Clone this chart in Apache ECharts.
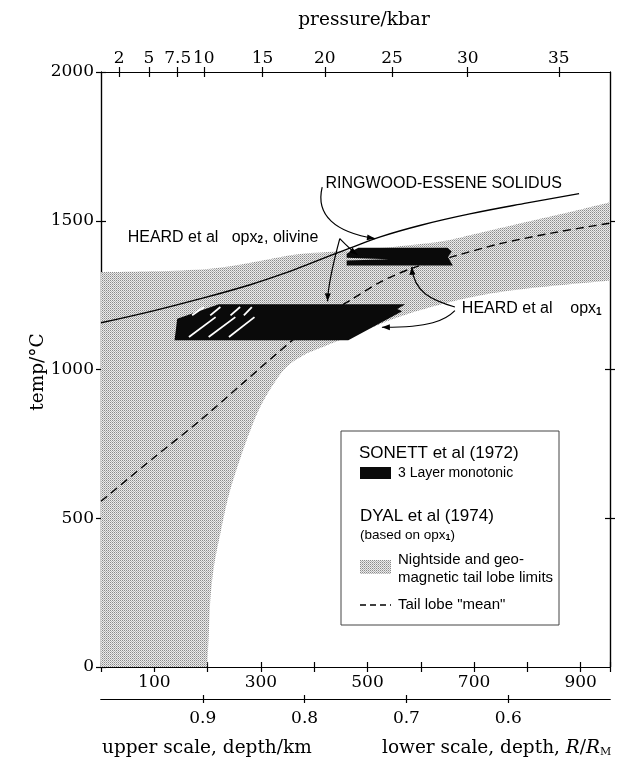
<!DOCTYPE html>
<html><head><meta charset="utf-8">
<script src="https://cdn.jsdelivr.net/npm/echarts@6/dist/echarts.min.js"></script>
<style>html,body{margin:0;padding:0;background:#fff}#c{width:634px;height:762px}</style>
</head><body><div id="c"></div>
<script>
// ---------------- data ----------------
const depthLabelsKm = [100, 300, 500, 700, 900];
const pressureLabels = ['2', '5', '7.5', '10', '15', '20', '25', '30', '35'];
const pressureDepthKm = [34, 90, 144, 193, 303, 420, 546, 688, 859];
const radiusTicks = [0.9, 0.8, 0.7, 0.6];
const rightTempTicks = [500, 1000, 1500];

// Ringwood-Essene solidus [depth km, temp °C]
const solidus = [[0,1157],[100,1198],[187,1238],[280,1285],[342,1322],[393,1357],[467,1408],[524,1446],[600,1485],[692,1523],[800,1560],[897,1591]];
// Dyal et al tail lobe "mean"
const tailLobeMean = [[0,557],[100,705],[186,829],[270,960],[355,1092],[410,1170],[467,1232],[524,1294],[583,1340],[661,1380],[749,1423],[850,1460],[955,1492]];
// Nightside / geomagnetic tail lobe limits (shaded band)
const bandUpper = [[0,1327],[100,1330],[200,1338],[260,1352],[320,1372],[374,1388],[455,1398],[524,1408],[600,1422],[649,1434],[700,1455],[800,1497],[900,1538],[955,1562]];
const bandLower = [[955,1299],[800,1272],[711,1249],[640,1220],[561,1178],[500,1135],[450,1100],[411,1072],[380,1048],[349,1010],[325,955],[299,876],[280,795],[261,700],[240,580],[224,450],[212,340],[205,224],[202,100],[199,0]];
const bandCorner = [0, 0];
// Sonett et al 3-layer monotonic regions
const sonettLower = [[221,1219],[571,1219],[556,1203],[565,1196],[464,1098],[138,1098],[143,1171]];
const sonettUpper = [[483,1409],[650,1409],[658,1397],[651,1378],[660,1350],[461,1350],[461,1366],[540,1371],[461,1376],[461,1389]];
const sonettStripes = [
  [[165,1109],[215,1176]], [[202,1109],[252,1176]], [[240,1109],[288,1176]],
  [[171,1182],[193,1210]], [[205,1182],[224,1210]], [[243,1182],[261,1210]], [[268,1182],[283,1210]]
];
// annotation arrows: [start, control1, control2, end] in [km, °C]
const arrowSolidus = [[415,1613],[402,1518],[440,1461],[514,1440]];
const arrowOpx2Right = [[448,1440],[460,1418],[470,1400],[481,1386]];
const arrowOpx2Left = [[448,1440],[436,1360],[426,1282],[425,1229]];
const arrowOpx1Up = [[664,1210],[621,1233],[587,1259],[583,1345]];
const arrowOpx1Left = [[664,1198],[646,1165],[617,1141],[527,1142]];
const labelSolidus = { pos: [421, 1624], text: 'RINGWOOD-ESSENE SOLIDUS' };
const labelOpx2 = { pos: [50, 1445], text: 'HEARD et al   opx{s|2}, olivine' };
const labelOpx1 = { pos: [677, 1204], text: 'HEARD et al    opx{s|1}' };

// ---------------- helpers ----------------
function makeStipple() {
  const c = document.createElement('canvas'); c.width = 2; c.height = 2;
  const g = c.getContext('2d');
  g.fillStyle = '#ebebeb'; g.fillRect(0, 0, 2, 2);
  g.fillStyle = '#8a8a8a'; g.fillRect(0, 0, 1, 1);
  g.fillStyle = '#b4b4b4'; g.fillRect(1, 1, 1, 1);
  return c;
}
const stipple = { image: makeStipple(), repeat: 'repeat' };

function catmull(pts) {
  let d = '';
  for (let i = 0; i < pts.length - 1; i++) {
    const p0 = pts[i - 1] || pts[i], p1 = pts[i], p2 = pts[i + 1], p3 = pts[i + 2] || pts[i + 1];
    const t = 1 / 6;
    const c1 = [p1[0] + (p2[0] - p0[0]) * t, p1[1] + (p2[1] - p0[1]) * t];
    const c2 = [p2[0] - (p3[0] - p1[0]) * t, p2[1] - (p3[1] - p1[1]) * t];
    d += ' C ' + c1[0] + ' ' + c1[1] + ' ' + c2[0] + ' ' + c2[1] + ' ' + p2[0] + ' ' + p2[1];
  }
  return d;
}
function arrowHead(tip, from, len, half) {
  let dx = tip[0] - from[0], dy = tip[1] - from[1];
  const L = Math.sqrt(dx * dx + dy * dy) || 1; dx /= L; dy /= L;
  const bx = tip[0] - dx * len, by = tip[1] - dy * len;
  return { type: 'polygon', shape: { points: [tip, [bx - dy * half, by + dx * half], [bx + dy * half, by - dx * half]] }, style: { fill: '#000' } };
}
function arrowEls(api, a) {
  const p = a.map(q => api.coord(q));
  return [
    { type: 'bezierCurve', shape: { x1: p[0][0], y1: p[0][1], cpx1: p[1][0], cpy1: p[1][1], cpx2: p[2][0], cpy2: p[2][1], x2: p[3][0], y2: p[3][1] }, style: { stroke: '#000', lineWidth: 1.2, fill: null } },
    arrowHead(p[3], p[2], 8, 3)
  ];
}

const sansRich = { s: { fontSize: 10, fontFamily: 'Liberation Sans', fontWeight: 'bold', verticalAlign: 'bottom', padding: [7, 1, 0, 0] } };
function annText(api, lab) {
  const p = api.coord(lab.pos);
  return { type: 'text', x: p[0], y: p[1], style: { text: lab.text, fill: '#000', fontSize: 16, fontFamily: 'Liberation Sans', align: 'left', verticalAlign: 'middle', rich: sansRich } };
}

const serif = 'DejaVu Serif';
const labelStyle = { color: '#000', fontFamily: serif, fontSize: 17 };
const lineStyle = { color: '#000', width: 1.2 };

function kmAxis(pos, inside, showLabel) {
  return {
    type: 'value', position: pos, min: 0, max: 955, interval: 100,
    axisLine: { show: true, onZero: false, lineStyle },
    axisTick: { show: true, inside, length: 5, lineStyle },
    axisLabel: { show: showLabel, ...labelStyle, margin: 7, formatter: v => depthLabelsKm.indexOf(v) >= 0 ? String(v) : '' },
    splitLine: { show: false }
  };
}
function pressureAxis(inside, showLabel) {
  return {
    type: 'value', position: 'top', min: 0, max: 955,
    axisLine: { show: true, onZero: false, lineStyle },
    axisTick: { show: true, inside, length: 5, lineStyle, customValues: pressureDepthKm },
    axisLabel: { show: showLabel, ...labelStyle, margin: 5, customValues: pressureDepthKm, formatter: v => pressureLabels[pressureDepthKm.indexOf(v)] || '' },
    splitLine: { show: false }
  };
}
function radiusAxis(inside, showLabel) {
  return {
    type: 'value', position: 'bottom', offset: 32, min: 0.5, max: 1.0, inverse: true,
    axisLine: { show: true, onZero: false, lineStyle },
    axisTick: { show: true, inside, length: 4, lineStyle, customValues: radiusTicks },
    axisLabel: { show: showLabel, ...labelStyle, margin: 11, customValues: radiusTicks, formatter: v => v.toFixed(1) },
    splitLine: { show: false }
  };
}
function tempAxis(pos, inside, showLabel, custom) {
  const o = {
    type: 'value', position: pos, min: 0, max: 2000, interval: 500,
    axisLine: { show: true, onZero: false, lineStyle },
    axisTick: { show: true, inside, length: 5, lineStyle },
    axisLabel: { show: showLabel, ...labelStyle, margin: 7, formatter: v => String(v) },
    splitLine: { show: false }
  };
  if (custom) { o.axisTick.customValues = custom; }
  return o;
}

const chart = echarts.init(document.getElementById('c'), null, { renderer: 'canvas' });
chart.setOption({
  animation: false,
  backgroundColor: '#fff',
  grid: { left: 101, right: 24, top: 72, bottom: 95 },
  xAxis: [
    kmAxis('bottom', false, true), kmAxis('bottom', true, false),
    pressureAxis(false, true), pressureAxis(true, false),
    radiusAxis(false, true), radiusAxis(true, false)
  ],
  yAxis: [
    tempAxis('left', false, true), tempAxis('left', true, false),
    tempAxis('right', false, false, rightTempTicks), tempAxis('right', true, false, rightTempTicks)
  ],
  series: [
    {
      type: 'custom', name: 'band', coordinateSystem: 'cartesian2d', xAxisIndex: 0, yAxisIndex: 0, z: 1,
      data: [[0, 0]], silent: true,
      renderItem(params, api) {
        const up = bandUpper.map(p => api.coord(p));
        const lo = bandLower.map(p => api.coord(p));
        const c = api.coord(bandCorner);
        const d = 'M ' + up[0][0] + ' ' + up[0][1] + catmull(up) + ' L ' + lo[0][0] + ' ' + lo[0][1] + catmull(lo) + ' L ' + c[0] + ' ' + c[1] + ' Z';
        return { type: 'path', shape: { pathData: d }, style: { fill: stipple, stroke: null } };
      }
    },
    {
      type: 'line', name: 'Tail lobe mean', data: tailLobeMean, smooth: 0.3, showSymbol: false, z: 3,
      lineStyle: { color: '#000', width: 1.4, type: [8, 5] }
    },
    {
      type: 'line', name: 'Solidus', data: solidus, smooth: 0.4, showSymbol: false, z: 3,
      lineStyle: { color: '#000', width: 1.4 }
    },
    {
      type: 'custom', name: 'Sonett', coordinateSystem: 'cartesian2d', z: 4, data: [[0, 0]], silent: true,
      renderItem(params, api) {
        const ch = [];
        ch.push({ type: 'polygon', shape: { points: sonettLower.map(p => api.coord(p)) }, style: { fill: '#0a0a0a' } });
        ch.push({ type: 'polygon', shape: { points: sonettUpper.map(p => api.coord(p)) }, style: { fill: '#0a0a0a' } });
        sonettStripes.forEach(s => {
          const a = api.coord(s[0]), b = api.coord(s[1]);
          ch.push({ type: 'line', shape: { x1: a[0], y1: a[1], x2: b[0], y2: b[1] }, style: { stroke: '#fff', lineWidth: 1.8 } });
        });
        return { type: 'group', children: ch };
      }
    },
    {
      type: 'custom', name: 'annotations', coordinateSystem: 'cartesian2d', z: 5, data: [[0, 0]], silent: true,
      renderItem(params, api) {
        const ch = [].concat(
          arrowEls(api, arrowSolidus), arrowEls(api, arrowOpx2Right), arrowEls(api, arrowOpx2Left),
          arrowEls(api, arrowOpx1Up), arrowEls(api, arrowOpx1Left),
          [annText(api, labelSolidus), annText(api, labelOpx2), annText(api, labelOpx1)]
        );
        return { type: 'group', children: ch };
      }
    }
  ],
  graphic: [
    { type: 'text', z: 100, x: 364, y: 20, style: { text: 'pressure/kbar', fill: '#000', fontFamily: serif, fontSize: 18.5, align: 'center', verticalAlign: 'middle' } },
    { type: 'text', z: 100, x: 38, y: 372, rotation: Math.PI / 2, style: { text: 'temp/°C', fill: '#000', fontFamily: serif, fontSize: 18.5, align: 'center', verticalAlign: 'middle' } },
    { type: 'text', z: 100, x: 102, y: 748, style: { text: 'upper scale, depth/km', fill: '#000', fontFamily: serif, fontSize: 18.5, align: 'left', verticalAlign: 'middle' } },
    { type: 'text', z: 100, x: 382, y: 748, style: { text: 'lower scale, depth, {i|R}/{i|R}{m|M}', fill: '#000', fontFamily: serif, fontSize: 18.5, align: 'left', verticalAlign: 'middle',
      rich: { i: { fontFamily: serif, fontSize: 18.5, fontStyle: 'italic' }, m: { fontFamily: serif, fontSize: 11, verticalAlign: 'bottom', padding: [8, 0, 0, 0] } } } },
    // legend box
    { type: 'rect', z: 100, shape: { x: 341, y: 431, width: 218, height: 194 }, style: { fill: '#fff', stroke: '#444', lineWidth: 1 } },
    { type: 'text', z: 101, x: 359, y: 453, style: { text: 'SONETT et al (1972)', fill: '#000', fontFamily: 'Liberation Sans', fontSize: 17, verticalAlign: 'middle' } },
    { type: 'rect', z: 101, shape: { x: 360, y: 467, width: 31, height: 12 }, style: { fill: '#0a0a0a' } },
    { type: 'text', z: 101, x: 398, y: 473, style: { text: '3 Layer monotonic', fill: '#000', fontFamily: 'Liberation Sans', fontSize: 14, verticalAlign: 'middle' } },
    { type: 'text', z: 101, x: 360, y: 516, style: { text: 'DYAL et al (1974)', fill: '#000', fontFamily: 'Liberation Sans', fontSize: 17, verticalAlign: 'middle' } },
    { type: 'text', z: 101, x: 360, y: 535, style: { text: '(based on opx{s|1})', fill: '#000', fontFamily: 'Liberation Sans', fontSize: 13.5, verticalAlign: 'middle',
      rich: { s: { fontSize: 9, fontFamily: 'Liberation Sans', fontWeight: 'bold', verticalAlign: 'bottom', padding: [6, 0, 0, 0] } } } },
    { type: 'rect', z: 101, shape: { x: 360, y: 560, width: 31, height: 14 }, style: { fill: stipple } },
    { type: 'text', z: 101, x: 398, y: 560, style: { text: 'Nightside and geo-', fill: '#000', fontFamily: 'Liberation Sans', fontSize: 15, verticalAlign: 'middle' } },
    { type: 'text', z: 101, x: 398, y: 578, style: { text: 'magnetic tail lobe limits', fill: '#000', fontFamily: 'Liberation Sans', fontSize: 15, verticalAlign: 'middle' } },
    { type: 'line', z: 101, shape: { x1: 360, y1: 605, x2: 391, y2: 605 }, style: { stroke: '#000', lineWidth: 1.4, lineDash: [6, 4] } },
    { type: 'text', z: 101, x: 398, y: 605, style: { text: 'Tail lobe "mean"', fill: '#000', fontFamily: 'Liberation Sans', fontSize: 15, verticalAlign: 'middle' } }
  ]
});
</script></body></html>
